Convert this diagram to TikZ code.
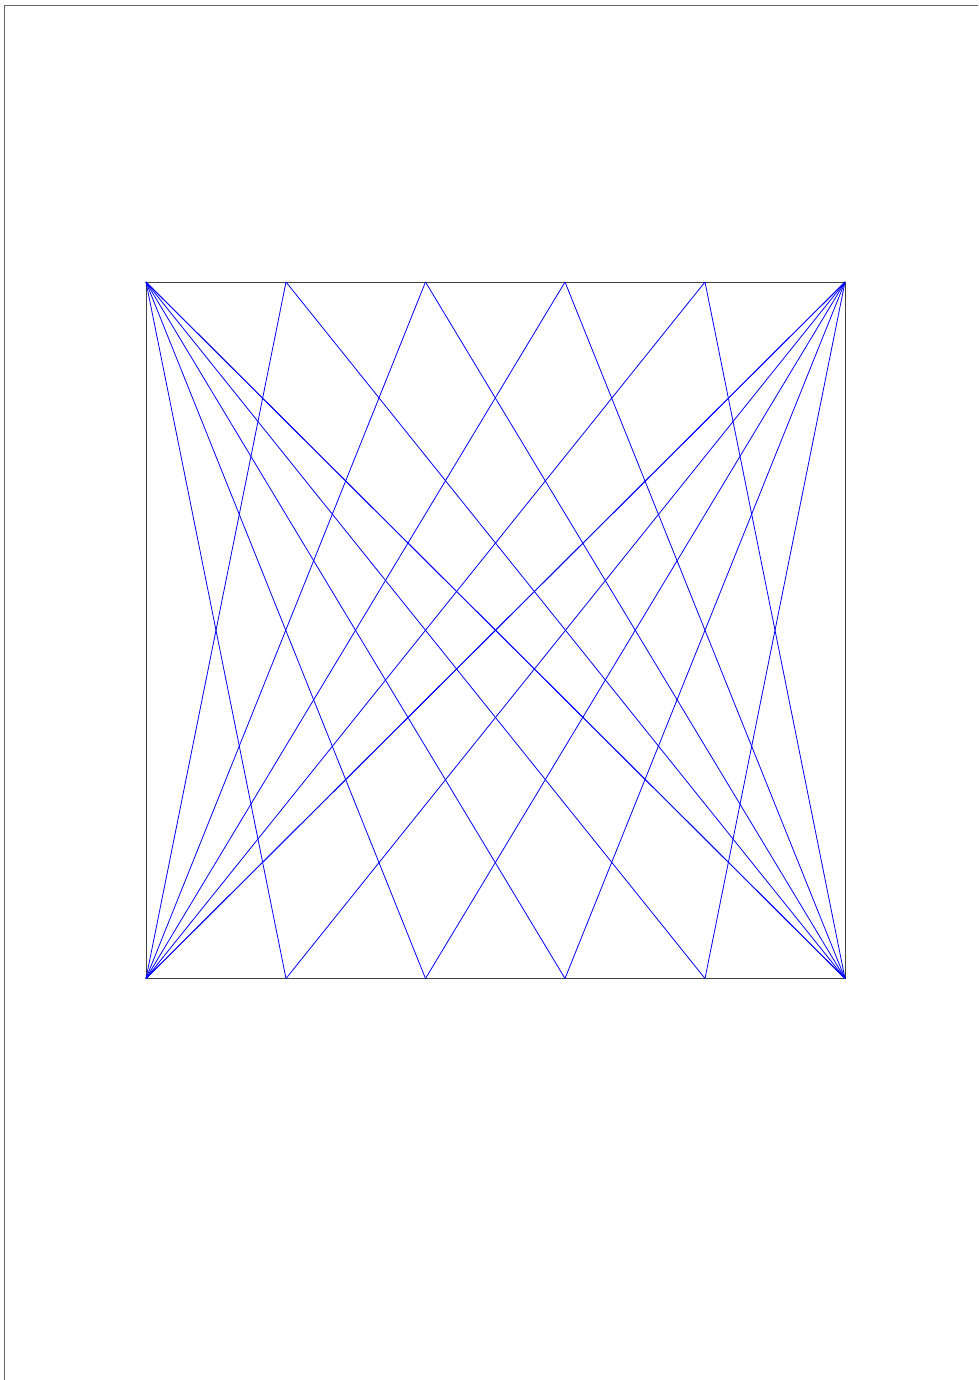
\documentclass[tikz,border=0pt]{standalone}
\begin{document}
\begin{tikzpicture}[x=1pt,y=-1pt,
  frameline/.style={line width=1.2pt,draw=black!60},
  boxline/.style={line width=0.9pt,draw=black!75},
  ray/.style={line width=0.8pt,draw=blue}]
\useasboundingbox (0,0) rectangle (978,1380);
\draw[frameline] (978,5.5) -- (4.5,5.5) -- (4.5,1380);
\foreach \i/\x in {0/146,1/286,2/425.5,3/565,4/705,5/845}{
  \coordinate (T\i) at (\x,282);
  \coordinate (B\i) at (\x,978.5);
}
\draw[boxline] (T0) rectangle (B5);
\foreach \i in {1,...,5}{
  \draw[ray] (T0) -- (B\i);
  \draw[ray] (B0) -- (T\i);
}
\foreach \i in {0,...,4}{
  \draw[ray] (T5) -- (B\i);
  \draw[ray] (B5) -- (T\i);
}
\end{tikzpicture}
\end{document}
